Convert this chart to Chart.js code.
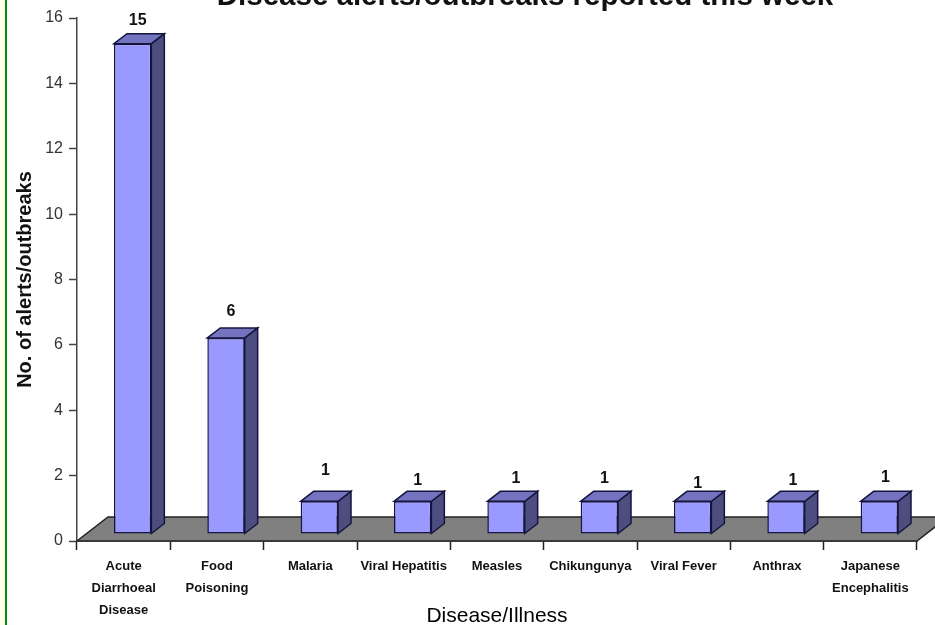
<!DOCTYPE html>
<html>
<head>
<meta charset="utf-8">
<title>Disease alerts/outbreaks</title>
<script src="https://cdn.jsdelivr.net/npm/chart.js@4"></script>
<style>
html, body { margin: 0; padding: 0; width: 935px; height: 625px; overflow: hidden; background: #fff; }
#edge { position: absolute; left: 0; top: 0; width: 5px; height: 625px; background: #ffffe6; border-right: 2px solid #0a8a0a; }
#wrap { position: absolute; left: 7px; top: -30px; width: 928px; height: 659px; }
</style>
</head>
<body>
<div id="edge"></div>
<div id="wrap"><canvas id="alerts"></canvas></div>
<script>
var chartTitle = "Disease alerts/outbreaks reported this week";
var xValues = [
    ["Acute", "Diarrhoeal", "Disease"],
    ["Food", "Poisoning"],
    "Malaria",
    "Viral Hepatitis",
    "Measles",
    "Chikungunya",
    "Viral Fever",
    "Anthrax",
    ["Japanese", "Encephalitis"]
];
var yValues = [15, 6, 1, 1, 1, 1, 1, 1, 1];

// value labels in the original sit a bit unevenly above the bars
var labelNudgeX = [14, 14, 15, 14, 19, 14, 14, 16, 15];
var labelNudgeY = [30, 33, 38, 28, 30, 30, 25, 28, 31];

var fontName = "'Liberation Sans', Arial, sans-serif";
var frontX = 9, frontY = -7;   // front faces sit inside the floor
var depthX = 13, depthY = -10; // bar depth
var floorX = 31, floorY = -24;
var edgeColor = "#15153f";

var box3d = {
    id: "box3d",
    beforeDatasetsDraw: function (chart) {
        var ctx = chart.ctx, area = chart.chartArea;
        // floor
        ctx.save();
        ctx.beginPath();
        ctx.moveTo(area.left, area.bottom);
        ctx.lineTo(area.right, area.bottom);
        ctx.lineTo(area.right + floorX, area.bottom + floorY);
        ctx.lineTo(area.left + floorX, area.bottom + floorY);
        ctx.closePath();
        ctx.fillStyle = "#808080";
        ctx.strokeStyle = "#222222";
        ctx.lineWidth = 1.5;
        ctx.fill();
        ctx.stroke();

        // side and top of each bar
        chart.getDatasetMeta(0).data.forEach(function (bar) {
            var half = bar.width / 2;
            var l = bar.x - half + frontX, r = bar.x + half + frontX;
            var t = bar.y + frontY, b = bar.base + frontY;
            ctx.strokeStyle = edgeColor;
            ctx.beginPath();
            ctx.moveTo(r, t);
            ctx.lineTo(r + depthX, t + depthY);
            ctx.lineTo(r + depthX, b + depthY);
            ctx.lineTo(r, b);
            ctx.closePath();
            ctx.fillStyle = "#4d4d80";
            ctx.fill();
            ctx.stroke();
            ctx.beginPath();
            ctx.moveTo(l, t);
            ctx.lineTo(l + depthX, t + depthY);
            ctx.lineTo(r + depthX, t + depthY);
            ctx.lineTo(r, t);
            ctx.closePath();
            ctx.fillStyle = "#7373bf";
            ctx.fill();
            ctx.stroke();
        });
        ctx.restore();

        ctx.save();
        ctx.translate(frontX, frontY);
    },
    afterDatasetsDraw: function (chart) {
        var ctx = chart.ctx;
        ctx.restore();

        // value labels
        ctx.save();
        ctx.fillStyle = "#111111";
        ctx.font = "bold 16px " + fontName;
        ctx.textAlign = "center";
        ctx.textBaseline = "middle";
        chart.getDatasetMeta(0).data.forEach(function (bar, i) {
            ctx.fillText(yValues[i], bar.x + labelNudgeX[i], bar.y - labelNudgeY[i]);
        });

        // title runs off the top of the page, off centre
        ctx.font = "bold 29.5px " + fontName;
        ctx.textBaseline = "alphabetic";
        ctx.fillText(chartTitle, 518, 35);
        ctx.restore();
    }
};

new Chart("alerts", {
    type: "bar",
    data: {
        labels: xValues,
        datasets: [{
            data: yValues,
            backgroundColor: "#9999ff",
            borderColor: edgeColor,
            borderWidth: 1.5,
            borderSkipped: false,
            barPercentage: 0.4,
            categoryPercentage: 1
        }]
    },
    options: {
        responsive: true,
        maintainAspectRatio: false,
        animation: false,
        layout: { padding: { top: 48, right: 18, bottom: 0, left: 0 } },
        plugins: {
            legend: { display: false },
            tooltip: { enabled: false }
        },
        scales: {
            x: {
                grid: { drawOnChartArea: false, tickLength: 9, tickColor: "#222222", offset: true, tickWidth: 1.5 },
                border: { color: "#222222", width: 1.5 },
                ticks: {
                    color: "#111111",
                    font: { family: fontName, size: 13, weight: "bold", lineHeight: 1.69 },
                    maxRotation: 0,
                    autoSkip: false,
                    padding: 5
                },
                title: {
                    display: true,
                    text: "Disease/Illness",
                    color: "#000000",
                    font: { family: fontName, size: 21 },
                    padding: 0
                },
                afterFit: function (scale) { scale.height = 88; }
            },
            y: {
                min: 0,
                max: 16,
                grid: { drawOnChartArea: false, tickLength: 8, tickColor: "#444444", tickWidth: 1.5 },
                border: { color: "#444444", width: 1.5 },
                ticks: {
                    stepSize: 2,
                    color: "#333333",
                    font: { family: fontName, size: 16 },
                    padding: 6
                },
                title: {
                    display: true,
                    text: "No. of alerts/outbreaks",
                    color: "#111111",
                    font: { family: fontName, size: 20, weight: "bold" },
                    padding: { top: 6, bottom: 0 }
                },
                afterFit: function (scale) { scale.width = 70; }
            }
        }
    },
    plugins: [box3d]
});
</script>
</body>
</html>
